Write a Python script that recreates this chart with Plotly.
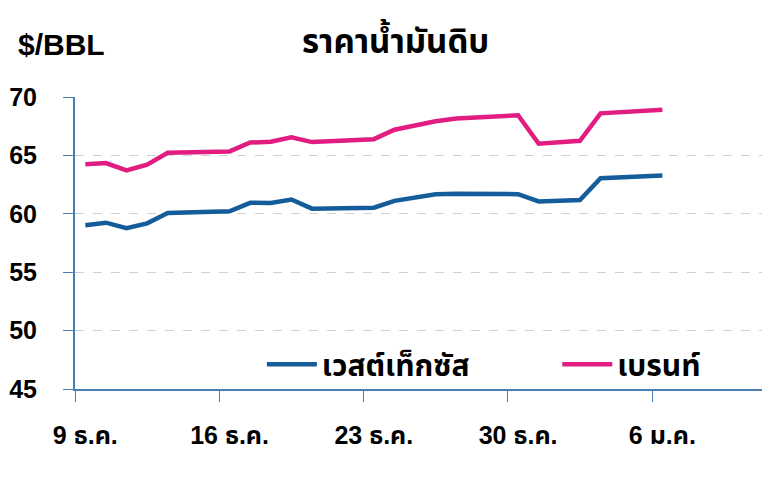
import plotly.graph_objects as go

dates = ["2019-12-09", "2019-12-10", "2019-12-11", "2019-12-12", "2019-12-13",
         "2019-12-16", "2019-12-17", "2019-12-18", "2019-12-19", "2019-12-20",
         "2019-12-23", "2019-12-24", "2019-12-26", "2019-12-27",
         "2019-12-30", "2019-12-31", "2020-01-02", "2020-01-03", "2020-01-06"]
wti = [59.02, 59.24, 58.76, 59.18, 60.07,
       60.21, 60.94, 60.93, 61.22, 60.44,
       60.52, 61.11, 61.68, 61.72,
       61.68, 61.06, 61.18, 63.05, 63.27]
brent = [64.25, 64.34, 63.72, 64.20, 65.22,
         65.34, 66.10, 66.17, 66.54, 66.14,
         66.39, 67.20, 67.92, 68.16,
         68.44, 66.00, 66.25, 68.60, 68.91]

tick_vals = ["2019-12-09", "2019-12-16", "2019-12-23", "2019-12-30", "2020-01-06"]
tick_text = ["9 ธ.ค.", "16 ธ.ค.", "23 ธ.ค.", "30 ธ.ค.", "6 ม.ค."]
y_ticks = [45, 50, 55, 60, 65, 70]

FONT = "Liberation Sans, Arial, Noto Sans Thai, sans-serif"
AXIS_COLOR = "#4a7fb5"

fig = go.Figure()
fig.add_trace(go.Scatter(x=dates, y=wti, mode="lines", name="เวสต์เท็กซัส",
                         line=dict(color="#155d9a", width=4.5), legend="legend"))
fig.add_trace(go.Scatter(x=dates, y=brent, mode="lines", name="เบรนท์",
                         line=dict(color="#e11d82", width=4.5), legend="legend2"))

legend_font = dict(size=30, color="black", family=FONT, weight="bold")

fig.update_layout(
    width=766, height=469,
    margin=dict(l=67, r=12, t=89, b=88),
    paper_bgcolor="white", plot_bgcolor="white",
    font=dict(family=FONT, size=20, color="black"),
    showlegend=True,
    legend=dict(x=0.272, y=0.085, xanchor="left", yanchor="middle",
                font=legend_font, bgcolor="rgba(0,0,0,0)", itemwidth=50),
    legend2=dict(x=0.702, y=0.085, xanchor="left", yanchor="middle",
                 font=legend_font, bgcolor="rgba(0,0,0,0)", itemwidth=50),
    xaxis=dict(type="date", range=["2019-12-08 12:00", "2020-01-10 20:00"],
               tickmode="array", tickvals=tick_vals, ticktext=tick_text,
               ticks="", ticklabelstandoff=23, automargin=False,
               minor=dict(ticks="outside", tick0="2019-12-08 12:00",
                          dtick=7 * 86400000, ticklen=11, tickcolor=AXIS_COLOR,
                          tickwidth=1, showgrid=False),
               showline=True, linecolor=AXIS_COLOR, linewidth=2,
               showgrid=False, zeroline=False,
               tickfont=dict(size=25, family=FONT, weight="bold", color="black")),
    yaxis=dict(range=[45, 70], tickmode="array", tickvals=y_ticks,
               ticks="outside", ticklen=10, tickcolor=AXIS_COLOR, tickwidth=1,
               ticklabelstandoff=21, automargin=False,
               showline=True, linecolor=AXIS_COLOR, linewidth=2,
               showgrid=True, gridcolor="#d0d0d0", griddash="dash", gridwidth=1,
               zeroline=False,
               tickfont=dict(size=25, family=FONT, weight="bold", color="black")),
    annotations=[
        dict(text="<b>$/BBL</b>", x=-0.086, y=1.18, xref="paper", yref="paper",
             xanchor="left", yanchor="middle",
             showarrow=False, font=dict(size=30, family=FONT)),
        dict(text="<b>ราคาน้ำมันดิบ</b>", x=0.466, y=1.2, xref="paper", yref="paper",
             xanchor="center", yanchor="middle",
             showarrow=False, font=dict(size=33, family=FONT)),
    ],
)

fig.write_html("out.html")
